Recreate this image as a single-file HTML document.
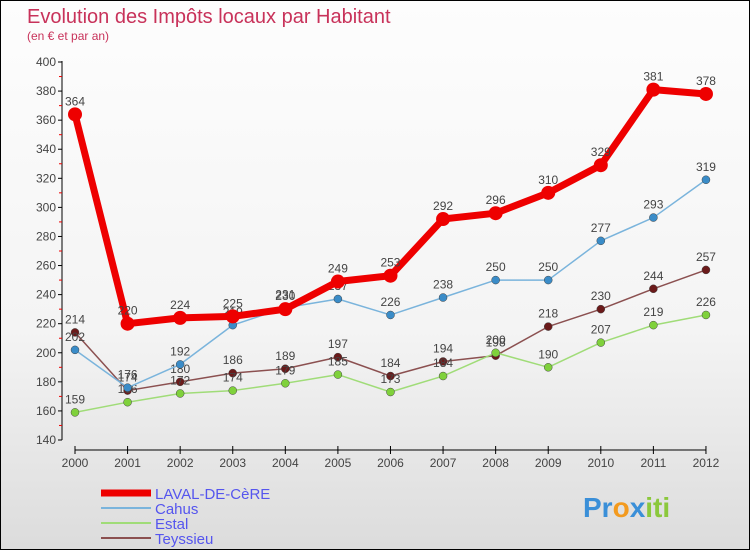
<!DOCTYPE html>
<html><head><meta charset="utf-8"><style>
body{margin:0}
#c{width:748px;height:548px;border:1px solid #000;background:linear-gradient(#fdfdfd,#f4f4f4 60%,#dcdcdc);position:relative;font-family:"Liberation Sans",sans-serif;overflow:hidden}
</style></head><body>
<div id="c">
<svg id="s" width="748" height="548" xmlns="http://www.w3.org/2000/svg" font-family="Liberation Sans, sans-serif">
<text x="26" y="22" font-size="20" fill="#c8325a" font-weight="normal">Evolution des Impôts locaux par Habitant</text>
<text x="26" y="39" font-size="12" fill="#c8325a">(en € et par an)</text>
<g id="axes"></g><g id="series"></g><g id="legend"></g>
<text x="582" y="516" font-size="28" font-weight="bold"><tspan fill="#3a8fd8">Pr</tspan><tspan fill="#f39a1e">o</tspan><tspan fill="#3a8fd8">x</tspan><tspan fill="#8bc83c">iti</tspan></text>
</svg>
</div>
<script>
const years=[2000,2001,2002,2003,2004,2005,2006,2007,2008,2009,2010,2011,2012];
const yTicks=[140,160,180,200,220,240,260,280,300,320,340,360,380,400];
const laval=[364,220,224,225,230,249,253,292,296,310,329,381,378];
const cahus=[202,176,192,219,231,237,226,238,250,250,277,293,319];
const estal=[159,166,172,174,179,185,173,184,200,190,207,219,226];
const teyssieu=[214,174,180,186,189,197,184,194,198,218,230,244,257];
const names=["LAVAL-DE-CèRE","Cahus","Estal","Teyssieu"];
const NS="http://www.w3.org/2000/svg";
const X=i=>74+i*52.58, Y=v=>439-(v-140)*(378/260);
function el(t,a,p){const e=document.createElementNS(NS,t);for(const k in a)e.setAttribute(k,a[k]);p.appendChild(e);return e;}
const ax=document.getElementById('axes');
let a=el('line',{x1:61,y1:60,x2:61,y2:439,stroke:'#000'},ax);


yTicks.forEach((v,i)=>{el('line',{x1:57,x2:61,y1:Y(v),y2:Y(v),stroke:'#000'},ax);
 if(i<yTicks.length-1)el('line',{x1:58,x2:61,y1:Y(v+10),y2:Y(v+10),stroke:'#e00'},ax);
 const t=el('text',{x:55,y:Y(v)+4,'text-anchor':'end','font-size':12,fill:'#444'},ax);t.textContent=v;
 
 });
a=el('line',{x1:X(0),y1:449,x2:X(12),y2:449,stroke:'#000'},ax);


years.forEach((y,i)=>{el('line',{x1:X(i),x2:X(i),y1:445,y2:453,stroke:'#000'},ax);
 const t=el('text',{x:X(i),y:466,'text-anchor':'middle','font-size':12,fill:'#444'},ax);t.textContent=y;
 
 });
const sg=document.getElementById('series');
const defs=[[teyssieu,'#6b1a1a','#8b5050',1.5,4],[estal,'#7fd13b','#a0dc78',1.5,4],[cahus,'#3a8cc8','#7ab4dc',1.5,4],[laval,'#ee0000','#ee0000',7,7]];
const ids=['teyssieu','estal','cahus','laval'];
defs.forEach(([d,c,lc,w,r],k)=>{
 const g=el('g',{},sg);
 
 
 el('polyline',{points:d.map((v,i)=>X(i)+','+Y(v)).join(' '),fill:'none',stroke:lc,'stroke-width':w,'stroke-linejoin':'round'},g);
 d.forEach((v,i)=>{const p=el('circle',{cx:X(i),cy:Y(v),r:r,fill:c,stroke:k<3?'#444':'none','stroke-width':0.5},g);
  
  
  const t=el('text',{x:X(i),y:Y(v)-9,'text-anchor':'middle','font-size':12,fill:'#444'},g);t.textContent=v;
  
  });
});
const lg=document.getElementById('legend');
const lcol=['#ee0000','#7ab4dc','#a0dc78','#8b5050'],lw=[7,2,2,2];
names.forEach((n,i)=>{const y=492+i*15;
 const g=el('g',{},lg);
 
 
 el('line',{x1:100,x2:150,y1:y,y2:y,stroke:lcol[i],'stroke-width':lw[i]},g);
 const t=el('text',{x:154,y:y+6,'font-size':15,fill:'#5555ee'},g);t.textContent=n;});
</script>
</body></html>
